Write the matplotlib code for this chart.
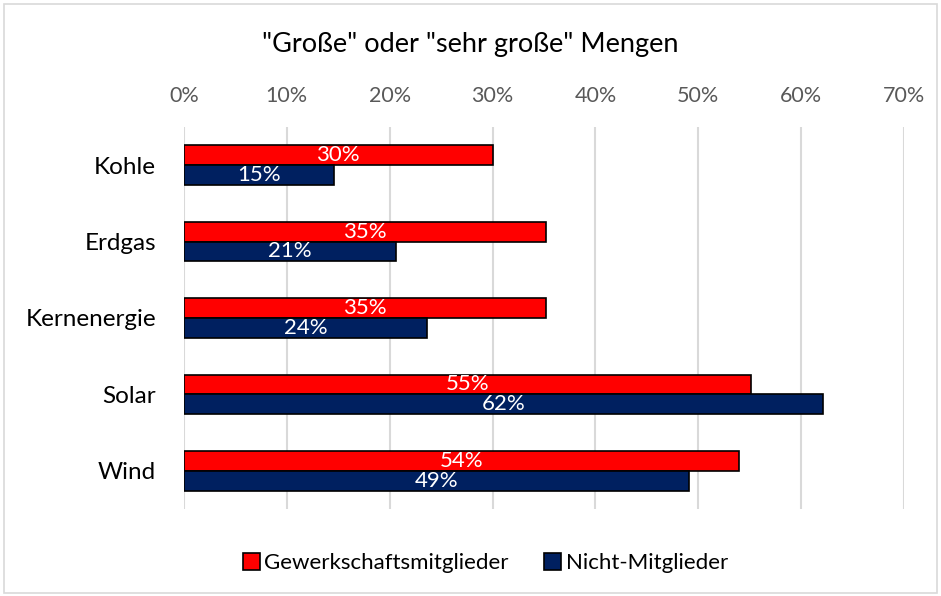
import matplotlib.pyplot as plt
import matplotlib.patches as patches
import numpy as np

# Chart data (bar lengths, labels are rounded)
CATEGORIES = ['Kohle', 'Erdgas', 'Kernenergie', 'Solar', 'Wind']
MEMBERS = [30.0, 35.2, 35.2, 55.1, 54.0]        # Gewerkschaftsmitglieder (%)
NON_MEMBERS = [14.6, 20.6, 23.6, 62.1, 49.1]    # Nicht-Mitglieder (%)
MEMBERS_LABEL = 'Gewerkschaftsmitglieder'
NON_MEMBERS_LABEL = 'Nicht-Mitglieder'
TITLE = '"Große" oder "sehr große" Mengen'
X_TICKS = [0, 10, 20, 30, 40, 50, 60, 70]

RED = '#FF0000'
NAVY = '#002060'
GRID = '#D9D9D9'

plt.rcParams['font.family'] = ['Lato', 'DejaVu Sans']

fig = plt.figure(figsize=(9.41, 5.96), dpi=100)
ax = fig.add_axes([0.1955, 0.146, 0.7652, 0.641])

# Outer chart border
fig.add_artist(patches.Rectangle((0.004, 0.005), 0.992, 0.988, transform=fig.transFigure,
                                 facecolor='none', edgecolor='#D9D9D9', linewidth=1.2))

y = np.arange(len(CATEGORIES))
h = 0.26
bars_m = ax.barh(y - h / 2, MEMBERS, height=h, color=RED, edgecolor='black',
                 linewidth=1.2, label=MEMBERS_LABEL, zorder=3)
bars_n = ax.barh(y + h / 2, NON_MEMBERS, height=h, color=NAVY, edgecolor='black',
                 linewidth=1.2, label=NON_MEMBERS_LABEL, zorder=3)

for bars, vals in ((bars_m, MEMBERS), (bars_n, NON_MEMBERS)):
    for bar, v in zip(bars, vals):
        ax.text(v / 2, bar.get_y() + bar.get_height() / 2, f'{v:.0f}%',
                ha='center', va='center', color='white', fontsize=16, zorder=4)

ax.set_xlim(0, 70)
ax.set_ylim(len(CATEGORIES) - 0.5, -0.5)
ax.set_yticks(y)
ax.set_yticklabels(CATEGORIES, fontsize=17.5, color='#000000')
ax.set_xticks(X_TICKS)
ax.set_xticklabels([f'{t}%' for t in X_TICKS], fontsize=15.5, color='#595959')
ax.xaxis.tick_top()
ax.tick_params(axis='x', length=0, pad=15)
ax.tick_params(axis='y', length=0, pad=20)
ax.grid(axis='x', color=GRID, linewidth=1.5, zorder=0)
ax.set_axisbelow(True)
for s in ax.spines.values():
    s.set_visible(False)

fig.text(0.5, 0.925, TITLE, ha='center', va='center', fontsize=19.5, color='#000000')

ax.legend(loc='center', bbox_to_anchor=(0.516, 0.055), bbox_transform=fig.transFigure,
          ncol=2, frameon=False, fontsize=16, handlelength=0.75, handleheight=0.75,
          handletextpad=0.2, columnspacing=1.6)

fig.savefig('out.png', dpi=100)
